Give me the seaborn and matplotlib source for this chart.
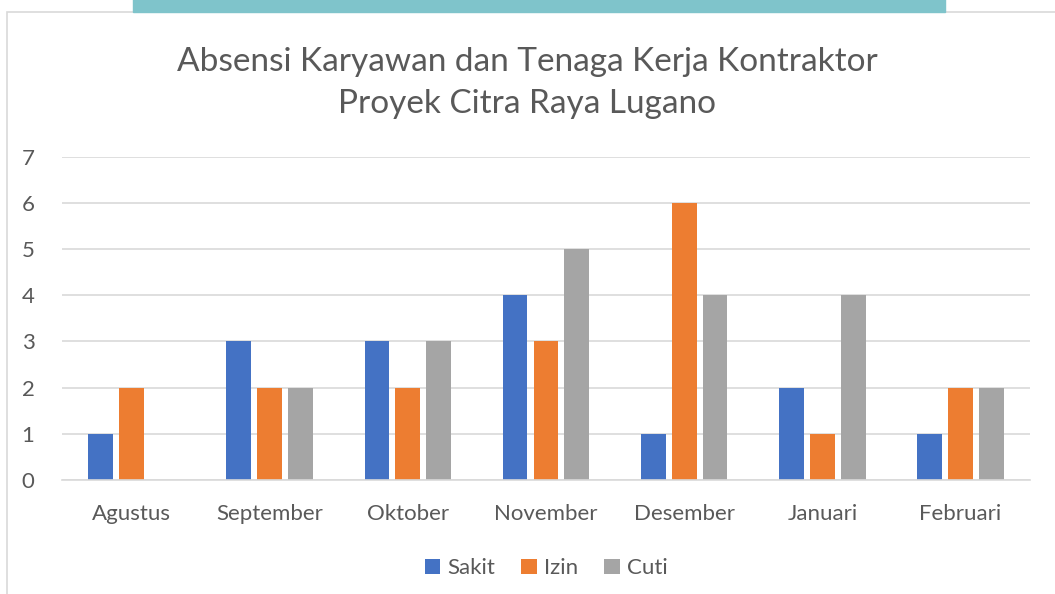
import pandas as pd
import seaborn as sns
import matplotlib.pyplot as plt
from matplotlib.patches import Rectangle

bulan = ['Agustus', 'September', 'Oktober', 'November', 'Desember', 'Januari', 'Februari']
sakit = [1, 3, 3, 4, 1, 2, 1]
izin = [2, 2, 2, 3, 6, 1, 2]
cuti = [0, 2, 3, 5, 4, 4, 2]
jenis = ['Sakit', 'Izin', 'Cuti']
warna = ['#4472C4', '#ED7D31', '#A5A5A5']

df = pd.DataFrame({'Bulan': bulan * 3,
                   'Jenis': [j for j in jenis for _ in bulan],
                   'Jumlah': sakit + izin + cuti})

sns.set_style('white')
plt.rcParams['font.family'] = ['Lato', 'DejaVu Sans']
txt = '#595959'

fig = plt.figure(figsize=(10.55, 5.94), dpi=100)
ax = fig.add_axes([0.059, 0.192, 0.917, 0.544])

sns.barplot(data=df, x='Bulan', y='Jumlah', hue='Jenis', palette=warna,
            width=0.67, gap=0.2, linewidth=0, ax=ax, saturation=1, legend=True)

ax.set_ylim(0, 7)
ax.set_yticks(range(8))
ax.yaxis.grid(True, color='#D9D9D9', linewidth=1.2)
ax.set_axisbelow(True)
for s in ['top', 'right', 'left']:
    ax.spines[s].set_visible(False)
ax.spines['bottom'].set_color('#D9D9D9')
ax.spines['bottom'].set_linewidth(1.2)
ax.tick_params(axis='both', length=0, colors=txt, labelsize=16)
ax.tick_params(axis='y', pad=20)
ax.tick_params(axis='x', pad=17)
ax.set_xlabel('')
ax.set_ylabel('')

ax.legend(loc='upper center', bbox_to_anchor=(0.5, -0.18), ncol=3, frameon=False,
          fontsize=16, labelcolor=txt, handlelength=0.7, handleheight=0.7,
          handletextpad=0.3, columnspacing=1.2)

fig.text(0.5, 0.80, 'Absensi Karyawan dan Tenaga Kerja Kontraktor\nProyek Citra Raya Lugano',
         ha='center', va='bottom', fontsize=24, color=txt, linespacing=1.5)

# chart frame and teal band above it
fig.patches.append(Rectangle((0.007, -0.01), 1.1, 0.99, transform=fig.transFigure,
                             fill=False, edgecolor='#D9D9D9', linewidth=1.2))
fig.patches.append(Rectangle((0.126, 0.98), 0.77, 0.03, transform=fig.transFigure,
                             color='#7FC4CB'))

fig.savefig('out.png', dpi=100)
